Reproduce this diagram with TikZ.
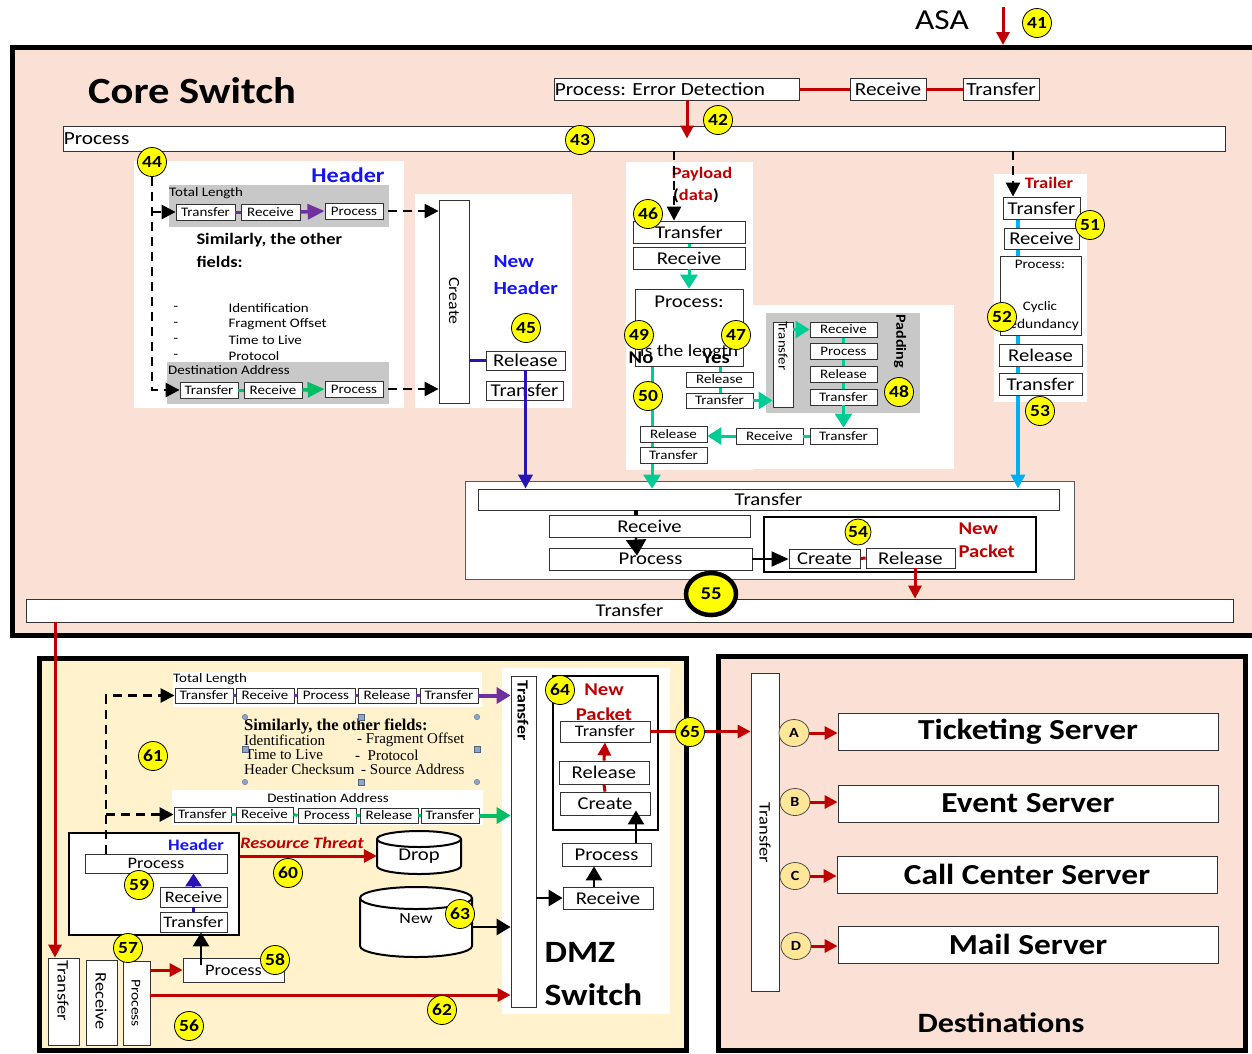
\documentclass[tikz,border=0pt]{standalone}
\usepackage{fontspec}
\setmainfont{Carlito}[FakeStretch=1.15]
\newfontfamily\tnr{Liberation Serif}
\usetikzlibrary{arrows.meta,calc,shapes.geometric}
\pgfdeclarelayer{back}
\pgfdeclarelayer{mid}
\pgfsetlayers{back,mid,main}
\definecolor{peach}{RGB}{251,225,213}
\definecolor{cream}{RGB}{255,242,204}
\definecolor{dred}{RGB}{192,0,0}
\definecolor{tealc}{RGB}{0,204,150}
\definecolor{grn}{RGB}{0,190,100}
\definecolor{purp}{RGB}{112,48,160}
\definecolor{dblue}{RGB}{40,20,180}
\definecolor{lblue}{RGB}{0,176,240}
\definecolor{bandgray}{RGB}{200,200,200}
\definecolor{badgey}{RGB}{255,255,0}
\definecolor{lighty}{RGB}{255,230,153}
\definecolor{hblue}{RGB}{20,20,245}
\definecolor{handle}{RGB}{140,165,205}
\newcommand\FS[1]{\fontsize{#1}{#1}\selectfont}
\newcommand\Bx[7][]{\node[bx,minimum width={#5-#3},minimum height={#6-#4},#1] (#2) at ({(#3+#5)/2},{(#4+#6)/2}) {#7};}
\tikzset{
 bx/.style={draw=black!80, fill=white, line width=0.8pt, inner sep=0pt, font=\FS{18}},
 badge/.style={circle, draw=black, line width=0.8pt, fill=badgey, inner sep=0pt, minimum size=29pt, font=\bfseries\FS{17}},
 dsh/.style={draw=black, line width=2.6pt, dash pattern=on 9pt off 6pt, -{Triangle[length=14pt,width=14pt]}},
 redarr/.style={draw=dred, line width=3pt, -{Triangle[length=13pt,width=13pt]}},
 redln/.style={draw=dred, line width=3pt},
 blkarr/.style={draw=black, line width=2.6pt, -{Triangle[length=14pt,width=16pt]}},
 tealarr/.style={draw=tealc, line width=3pt, -{Triangle[length=14pt,width=17pt]}},
 tealln/.style={draw=tealc, line width=3pt},
 hdl/.style={fill=handle, draw=handle!60!black, line width=0.3pt, inner sep=0pt, minimum size=5.5pt},
 lcirc/.style={ellipse, draw=black!70, line width=0.8pt, fill=lighty, inner sep=0pt, minimum width=30pt, minimum height=27pt, font=\bfseries\FS{14}},
}
\begin{document}
\begin{tikzpicture}[x=1pt,y=-1pt]
\useasboundingbox (0,0) rectangle (1252,1053);
\begin{pgfonlayer}{back}
 \fill[white] (0,0) rectangle (1252,1053);
 \draw[line width=5pt, fill=peach] (12.5,47.5) rectangle (1265,635.5);
 \draw[line width=5pt, fill=cream] (39.5,658.5) rectangle (686,1050.5);
 \draw[line width=5pt, fill=peach] (718.5,656.5) rectangle (1245.5,1050.5);
 \Bx[draw=none]{phdr}{134}{161}{404}{408}{}
 \Bx[draw=none]{pnh}{415}{194}{572}{408}{}
 \Bx[draw=none]{ppl1}{626}{162}{753}{470}{}
 \Bx[draw=none]{ppl2}{753}{305}{954}{469}{}
 \Bx[draw=none,fill=bandgray]{padp}{766}{313}{920}{413}{}
 \Bx[draw=none]{ptrl}{994}{174}{1087}{402}{}
 \Bx[draw=black!65]{binner}{465}{481}{1074}{579}{}
 \Bx[draw=none]{row1}{173}{672}{482}{707}{}
 \Bx[draw=none]{row2}{172}{790}{483}{825}{}
 \Bx[draw=none]{dmzw}{502}{668}{670}{1014}{}
\end{pgfonlayer}

% ---------- top ----------
\node[font=\FS{29}] (asa) at (942,20) {ASA};
\coordinate (a41s) at (1003,7);
\coordinate (a41e) at (1003,45);
\draw[redarr] (a41s) -- (a41e);
\node[badge] (b41) at (1037,23) {41};
\node[font=\bfseries\FS{37}] (title) at (192,91) {Core Switch};
\Bx{ped}{554}{78}{799}{100}{}
\node[anchor=west, font=\FS{18.5}, inner sep=1pt] (pedt) at (ped.west) {Process: Error Detection};
\Bx[font=\FS{18.5}]{rcv0}{850}{78}{926}{100}{Receive}
\Bx[font=\FS{18.5}]{tr0}{963}{78}{1039}{100}{Transfer}
\draw[redln] (ped.east) -- (rcv0.west);
\draw[redln] (rcv0.east) -- (tr0.west);
\Bx{proc}{63}{126}{1225}{151}{}
\node[anchor=west, font=\FS{18.5}, inner sep=1pt] (proct) at (proc.west) {Process};
\draw[redarr] ([xshift=10.5pt]ped.south) -- ([xshift=10.5pt]ped.south |- proc.center);
\node[badge] (b42) at (718,120) {42};
\node[badge] (b43) at (580,140) {43};

% ---------- header ----------
\node[font=\bfseries\FS{21}, text=hblue] (hdrT) at (348,175) {Header};
\node[anchor=west, font=\bfseries\FS{16}] (sim1) at (193,240) {Similarly, the other};
\node[anchor=west, font=\bfseries\FS{16}] (sim2) at (193,262) {fields:};
\foreach \yy/\lbl [count=\i] in {308/Identification,324/Fragment Offset,340/Time to Live,356/Protocol}{
 \node[anchor=west, font=\FS{13}] (ldash\i) at (170,\yy) {-};
 \node[anchor=west, font=\FS{13}] (ltxt\i) at (225,\yy) {\lbl};
}
\Bx[draw=none, fill=bandgray]{band1}{169}{185}{389}{227}{}
\node[anchor=west, font=\FS{13}, inner sep=0pt] (tl1) at (169,193) {Total Length};
\Bx[font=\FS{13}]{h1t}{176}{204}{235}{220}{Transfer}
\Bx[font=\FS{13}]{h1r}{241}{204}{300}{220}{Receive}
\Bx[font=\FS{13}]{h1p}{325}{203}{383}{219}{Process}
\draw[purp, line width=3pt] (h1t.east) -- (h1r.west);
\draw[purp, line width=3.5pt, -{Triangle[length=17pt,width=15pt]}] (h1r.east) -- (h1p.west);
\Bx[draw=none, fill=bandgray]{band2}{167}{362}{389}{404}{}
\node[anchor=west, font=\FS{13}, inner sep=0pt] (tl2) at (168,370) {Destination Address};
\Bx[font=\FS{13}]{h2t}{180}{382}{238}{398}{Transfer}
\Bx[font=\FS{13}]{h2r}{244}{382}{302}{398}{Receive}
\Bx[font=\FS{13}]{h2p}{325}{381}{383}{397}{Process}
\draw[grn, line width=3pt] (h2t.east) -- (h2r.west);
\draw[grn, line width=3.5pt, -{Triangle[length=17pt,width=15pt]}] (h2r.east) -- (h2p.west);
\node[badge] (b44) at (152,162) {44};
\draw[dsh] (b44.south) |- (h2t.west);
\draw[dsh] (b44.south |- h1t.west) -- (h1t.west);

% ---------- new header ----------
\Bx{create}{439}{200}{469}{403}{}
\node[rotate=-90, font=\FS{15.5}] (createt) at (454,301) {Create};
\draw[dsh] ([xshift=5pt]h1p.east) -- (h1p.east -| create.west);
\draw[dsh] ([xshift=5pt]h2p.east) -- (h2p.east -| create.west);
\node[anchor=west, font=\bfseries\FS{18.5}, text=hblue] (nh1) at (490,262) {New};
\node[anchor=west, font=\bfseries\FS{18.5}, text=hblue] (nh2) at (490,288) {Header};
\Bx{nhrel}{486}{351}{565}{370}{Release}
\Bx{nhtr}{486}{381}{563}{400}{Transfer}
\draw[dblue, line width=3.5pt] (nhrel.west -| create.east) -- (nhrel.west);
\node[badge] (b45) at (526,328) {45};

% ---------- bottom box of core ----------
\Bx{btr}{478}{489}{1059}{510}{Transfer}
\Bx{brc}{549}{515}{750}{537}{Receive}
\Bx{bpr}{549}{548}{752}{570}{Process}
\Bx[line width=2.5pt, draw=black]{npk}{764}{517}{1036}{572}{}
\Bx{ncr}{789}{549}{860}{568}{Create}
\Bx{nrel}{866}{548}{955}{568}{Release}
\node[anchor=west, font=\bfseries\FS{18}, text=dred] (np1) at (955,529) {New};
\node[anchor=west, font=\bfseries\FS{18}, text=dred] (np2) at (955,551) {Packet};
\draw[black, line width=3.5pt] ([xshift=-13.5pt]brc.north) -- ([xshift=-13.5pt]brc.north |- btr.south);
\draw[draw=black, line width=2.6pt, -{Triangle[length=16pt,width=20pt]}] ([xshift=-13.5pt]brc.south) -- ([xshift=-13.5pt,yshift=-8pt]bpr.north);
\draw[redln] (ncr.east) -- (nrel.west);
\draw[black, line width=2pt, -{Triangle[length=17pt,width=15pt]}] (bpr.east) -- (bpr.east -| ncr.west);
\Bx{bigtr}{26}{599}{1233}{622}{Transfer}
\draw[redarr] ([xshift=4.5pt]nrel.south) -- ([xshift=4.5pt]nrel.south |- bigtr.north);
\node[badge, minimum size=26pt] (b54) at (858,532) {54};
\node[ellipse, draw=black, line width=4.5pt, fill=badgey, minimum width=50pt, minimum height=42pt, inner sep=0pt, font=\bfseries\FS{18}] (b55) at (711,594) {55};
\draw[dblue, line width=3.5pt, -{Triangle[length=14pt,width=14pt]}] (nhrel.south) -- (nhrel.south |- btr.north);

% ---------- payload ----------
\node[font=\bfseries\FS{16}, text=dred] (pay1) at (702,174) {Payload};
\node[font=\bfseries\FS{16}] (pay2) at (696,196) {(\textcolor{dred}{data})};
\Bx{ptr}{633}{221}{745}{243}{Transfer}
\Bx{prc}{633}{247}{745}{269}{Receive}
\Bx{ppr}{635}{289}{743}{366}{}
\node[font=\FS{18}] (pprt1) at (689,302) {Process:};
\node[font=\FS{17}] (pprt2) at (689,352) {Is the length};
\Bx[font=\FS{13}]{ynrel}{686}{372}{753}{387}{Release}
\Bx[font=\FS{13}]{ynt}{686}{393}{753}{408}{Transfer}
\Bx{pdt}{773}{322}{793}{407}{}
\node[rotate=-90, font=\FS{13}] (pdtt) at (783,346) {Transfer};
\Bx[font=\FS{13}]{pdr}{810}{322}{877}{337}{Receive}
\Bx[font=\FS{13}]{ppro}{810}{343}{877}{359}{Process}
\Bx[font=\FS{13}]{prel}{810}{366}{877}{382}{Release}
\Bx[font=\FS{13}]{ptr2}{810}{389}{877}{405}{Transfer}
\Bx[font=\FS{13}]{ptr3}{810}{428}{877}{444}{Transfer}
\Bx[font=\FS{13}]{prcv2}{736}{428}{803}{444}{Receive}
\Bx[font=\FS{13}]{pnrel}{640}{426}{707}{442}{Release}
\Bx[font=\FS{13}]{pnt}{640}{447}{707}{463}{Transfer}
\node[rotate=-90, font=\bfseries\FS{14}] (padt) at (900,341) {Padding};
\begin{pgfonlayer}{mid}
 \draw[tealln] (ptr.south) -- (prc.north);
 \draw[tealln] ([xshift=31pt]ppr.south) -- ([xshift=31pt]ppr.south |- ynt.south);
 \draw[tealln] (pdr.south) -- (ptr2.north);
 \draw[tealarr] ([xshift=-37pt]ppr.south) -- ([xshift=-37pt]ppr.south |- btr.north);
\end{pgfonlayer}
\draw[tealarr] (prc.south) -- (ppr.north);
\draw[tealarr] (ynt.east) -- (ynt.east -| pdt.west);
\draw[tealarr] (pdr.west -| pdt.east) -- (pdr.west);
\draw[tealarr] (ptr2.south) -- (ptr3.north);
\draw[tealln] (ptr3.west) -- (prcv2.east);
\draw[tealarr] (prcv2.west) -- (prcv2.west -| pnrel.east);
\draw[dsh] ([xshift=30pt]proc.south) -- ([xshift=30pt]proc.south |- ptr.north);
\node[badge] (b46) at (648,214) {46};
\node[badge] (b49) at (639,335) {49};
\node[badge] (b47) at (736,335) {47};
\node[badge] (b50) at (648,396) {50};
\node[badge] (b48) at (899,392) {48};
\node[font=\bfseries\FS{18}] (notxt) at (641,358) {No};
\node[font=\bfseries\FS{18}] (yestxt) at (716,358) {Yes};

% ---------- trailer ----------
\node[font=\bfseries\FS{16}, text=dred] (trlT) at (1049,183) {Trailer};
\Bx{ttr}{1003}{197}{1080}{219}{Transfer}
\Bx{trc}{1004}{228}{1079}{249}{Receive}
\Bx{tpr}{1000}{256}{1081}{335}{}
\node[font=\FS{13}] (tprt1) at (1040,264) {Process:};
\node[font=\FS{13}] (tprt2) at (1040,307) {Cyclic};
\node[font=\FS{13.5}] (tprt3) at (1040,325) {Redundancy};
\Bx{trel}{999}{344}{1082}{366}{Release}
\Bx{ttr2}{999}{373}{1082}{395}{Transfer}
\draw[dsh] ([xshift=369pt]proc.south) -- ([xshift=369pt]proc.south |- ttr.north);
\begin{pgfonlayer}{mid}
 \draw[draw=lblue, line width=4pt, -{Triangle[length=14pt,width=14pt]}] ([xshift=-23.5pt]ttr.south) -- ([xshift=-23.5pt]ttr.south |- btr.north);
\end{pgfonlayer}
\node[badge] (b51) at (1090,225) {51};
\node[badge] (b52) at (1002,317) {52};
\node[badge] (b53) at (1040,411) {53};

% ---------- DMZ ----------
\Bx{dTr}{48}{958}{79}{1045}{}
\Bx{dRc}{86}{960}{117}{1045}{}
\Bx{dPr}{123}{961}{150}{1045}{}
\node[rotate=-90, font=\FS{16}] (dTrt) at (63,991) {Transfer};
\node[rotate=-90, font=\FS{16}] (dRct) at (101,1001) {Receive};
\node[rotate=-90, font=\FS{13.5}] (dPrt) at (136,1003) {Process};
\draw[redarr] ([xshift=-574.5pt]bigtr.south) -- ([xshift=-574.5pt]bigtr.south |- dTr.north);

\node[anchor=west, font=\FS{13}, inner sep=0pt] (tl3) at (173,679) {Total Length};
\Bx[font=\FS{13}]{r1a}{175}{688}{233}{703}{Transfer}
\Bx[font=\FS{13}]{r1b}{236}{688}{294}{703}{Receive}
\Bx[font=\FS{13}]{r1c}{297}{688}{355}{703}{Process}
\Bx[font=\FS{13}]{r1d}{358}{688}{416}{703}{Release}
\Bx[font=\FS{13}]{r1e}{420}{688}{478}{703}{Transfer}
\node[font=\FS{13}, inner sep=0pt] (tl4) at (328,798) {Destination Address};
\Bx[font=\FS{13}]{r2a}{174}{807}{231}{822}{Transfer}
\Bx[font=\FS{13}]{r2b}{236}{807}{293}{822}{Receive}
\Bx[font=\FS{13}]{r2c}{298}{808}{356}{823}{Process}
\Bx[font=\FS{13}]{r2d}{360}{808}{418}{823}{Release}
\Bx[font=\FS{13}]{r2e}{421}{808}{479}{823}{Transfer}
\foreach \pa/\pb in {r1a/r1b,r1b/r1c,r1c/r1d,r1d/r1e} \draw[purp, line width=3pt] (\pa.east) -- (\pb.west);
\foreach \pa/\pb in {r2a/r2b,r2b/r2c,r2c/r2d,r2d/r2e} \draw[grn, line width=3pt] (\pa.east) -- (\pb.west);

\Bx{dmzT}{511}{676}{536}{1007}{}
\node[rotate=-90, anchor=west, font=\bfseries\FS{15.5}] (dmzTt) at (523,677) {Transfer};
\draw[purp, line width=4pt, -{Triangle[length=14pt,width=16pt]}] (r1e.east) -- (r1e.east -| dmzT.west);
\draw[grn, line width=4pt, -{Triangle[length=14pt,width=16pt]}] (r2e.east) -- (r2e.east -| dmzT.west);

\node[anchor=west, font=\tnr\bfseries\FS{16.5}, inner sep=0pt] (sf0) at (244,726) {Similarly, the other fields:};
\node[anchor=west, font=\tnr\FS{15}, inner sep=0pt] (sf1) at (244,740) {Identification};
\node[anchor=west, font=\tnr\FS{15}, inner sep=0pt] (sf2) at (357,740) {- Fragment Offset};
\node[anchor=west, font=\tnr\FS{15}, inner sep=0pt] (sf3) at (245,755) {Time to Live};
\node[anchor=west, font=\tnr\FS{15}, inner sep=0pt] (sf4) at (355,755) {-\ \ Protocol};
\node[anchor=west, font=\tnr\FS{15}, inner sep=0pt] (sf5) at (244,769) {Header Checksum};
\node[anchor=west, font=\tnr\FS{15}, inner sep=0pt] (sf6) at (361,769) {- Source Address};
\node[hdl, circle] (hd1) at (245,717) {};
\node[hdl, rectangle] (hd2) at (361,717) {};
\node[hdl, circle] (hd3) at (477,717) {};
\node[hdl, rectangle] (hd4) at (245,749) {};
\node[hdl, rectangle] (hd5) at (477,749) {};
\node[hdl, circle] (hd6) at (245,782) {};
\node[hdl, rectangle] (hd7) at (361,782) {};
\node[hdl, circle] (hd8) at (477,782) {};

\Bx[draw=black, line width=2.5pt]{hbox}{69}{833}{239}{935}{}
\node[font=\bfseries\FS{16}, text=hblue] (hbT) at (196,845) {Header};
\Bx[font=\FS{16}]{hp}{85}{854}{227}{873}{Process}
\Bx[font=\FS{16}]{hr}{160}{887}{227}{907}{Receive}
\Bx[font=\FS{16}]{ht}{160}{912}{227}{932}{Transfer}
\draw[dblue, line width=3pt] (ht.north) -- (hr.south);
\draw[dblue, line width=3pt, -{Triangle[length=13pt,width=16pt]}] (hr.north) -- (hr.north |- hp.south);
\draw[dsh] ([xshift=-50pt]hp.north) |- (r1a.west);
\draw[dsh] ([xshift=-50pt]hp.north |- r2a.west) -- (r2a.west);

\node[font=\bfseries\itshape\FS{16}, text=dred] (rt) at (302,843) {Resource Threat};
\draw[fill=white, line width=2pt] (377,839) -- (377,866) arc[start angle=180,end angle=360,x radius=42pt,y radius=8pt] -- (461,839) arc[start angle=0,end angle=180,x radius=42pt,y radius=8pt] -- cycle;
\draw[line width=2pt] (377,839) arc[start angle=180,end angle=360,x radius=42pt,y radius=8pt];
\node[font=\FS{18}, minimum width=84pt, inner sep=0pt] (drop) at (419,856) {Drop};
\draw[fill=white, line width=2pt] (360,898) -- (360,946) arc[start angle=180,end angle=360,x radius=56pt,y radius=11pt] -- (472,898) arc[start angle=0,end angle=180,x radius=56pt,y radius=11pt] -- cycle;
\draw[line width=2pt] (360,898) arc[start angle=180,end angle=360,x radius=56pt,y radius=11pt];
\node[font=\FS{15.5}] (newt) at (416,919) {New};
\node[minimum width=112pt, minimum height=2pt, inner sep=0pt] (newc) at (416,927) {};
\draw[blkarr] (newc.east) -- (newc.east -| dmzT.west);
\draw[redarr] (drop.west -| hbox.east) -- (drop.west);

\Bx[font=\FS{16}]{p58}{183}{958}{284}{982}{Process}
\draw[redarr] (p58.west -| dPr.east) -- (p58.west);
\draw[blkarr] ([xshift=-32.5pt,yshift=-7pt]p58.north) -- ([xshift=-32.5pt]p58.north |- ht.south);
\coordinate (o62) at ($(dPr.east)+(0,-8)$);
\draw[redarr] (o62) -- (o62 -| dmzT.west);

\Bx[line width=2.5pt, draw=black]{npk2}{553}{676}{658}{830}{}
\node[font=\bfseries\FS{18}, text=dred] (np3) at (604,690) {New};
\node[font=\bfseries\FS{18}, text=dred] (np4) at (604,714) {Packet};
\Bx[font=\FS{16}]{n2t}{560}{721}{650}{742}{Transfer}
\Bx{n2r}{559}{761}{649}{784}{Release}
\Bx{n2c}{560}{792}{650}{815}{Create}
\draw[redln] (n2c.north) -- (n2r.south);
\draw[redarr] (n2r.north) -- (n2t.south);
\Bx{n2p}{562}{843}{651}{866}{Process}
\Bx{n2rc}{563}{887}{653}{909}{Receive}
\draw[blkarr] ([xshift=29.5pt]n2p.north) -- ([xshift=29.5pt,yshift=5pt]n2p.north |- n2c.south);
\draw[blkarr] ([xshift=-14pt]n2rc.north) -- ([xshift=-14pt]n2rc.north |- n2p.south);
\draw[blkarr] (n2rc.west -| dmzT.east) -- (n2rc.west);
\node[anchor=west, font=\bfseries\FS{31}] (dmz1) at (541,952) {DMZ};
\node[anchor=west, font=\bfseries\FS{31}] (dmz2) at (541,995) {Switch};

\node[badge] (b56) at (189,1026) {56};
\node[badge] (b57) at (128,948) {57};
\node[badge] (b58) at (275,960) {58};
\node[badge] (b59) at (139,885) {59};
\node[badge] (b60) at (288,873) {60};
\node[badge] (b61) at (153,756) {61};
\node[badge] (b62) at (442,1010) {62};
\node[badge] (b63) at (460,914) {63};
\node[badge] (b64) at (560,690) {64};

% ---------- destinations ----------
\Bx{dTr2}{751}{673}{779}{991}{}
\node[rotate=-90, font=\FS{16}] (dTr2t) at (765,833) {Transfer};
\draw[redarr] (n2t.east) -- (n2t.east -| dTr2.west);
\node[badge] (b65) at (690,732) {65};
\Bx[font=\bfseries\FS{29}]{sT}{838}{713}{1218}{750}{Ticketing Server}
\Bx[font=\bfseries\FS{29}]{sE}{838}{785}{1218}{822}{Event Server}
\Bx[font=\bfseries\FS{29}]{sC}{837}{856}{1217}{893}{Call Center Server}
\Bx[font=\bfseries\FS{29}]{sM}{838}{926}{1218}{963}{Mail Server}
\node[lcirc] (cA) at (794,733) {A};
\node[lcirc] (cB) at (795,802) {B};
\node[lcirc] (cC) at (795,876) {C};
\node[lcirc] (cD) at (796,946) {D};
\draw[redarr] (cA.east) -- (cA.east -| sT.west);
\draw[redarr] (cB.east) -- (cB.east -| sE.west);
\draw[redarr] (cC.east) -- (cC.east -| sC.west);
\draw[redarr] (cD.east) -- (cD.east -| sM.west);
\node[font=\bfseries\FS{28}] (destT) at (1001,1023) {Destinations};
\end{tikzpicture}
\end{document}
